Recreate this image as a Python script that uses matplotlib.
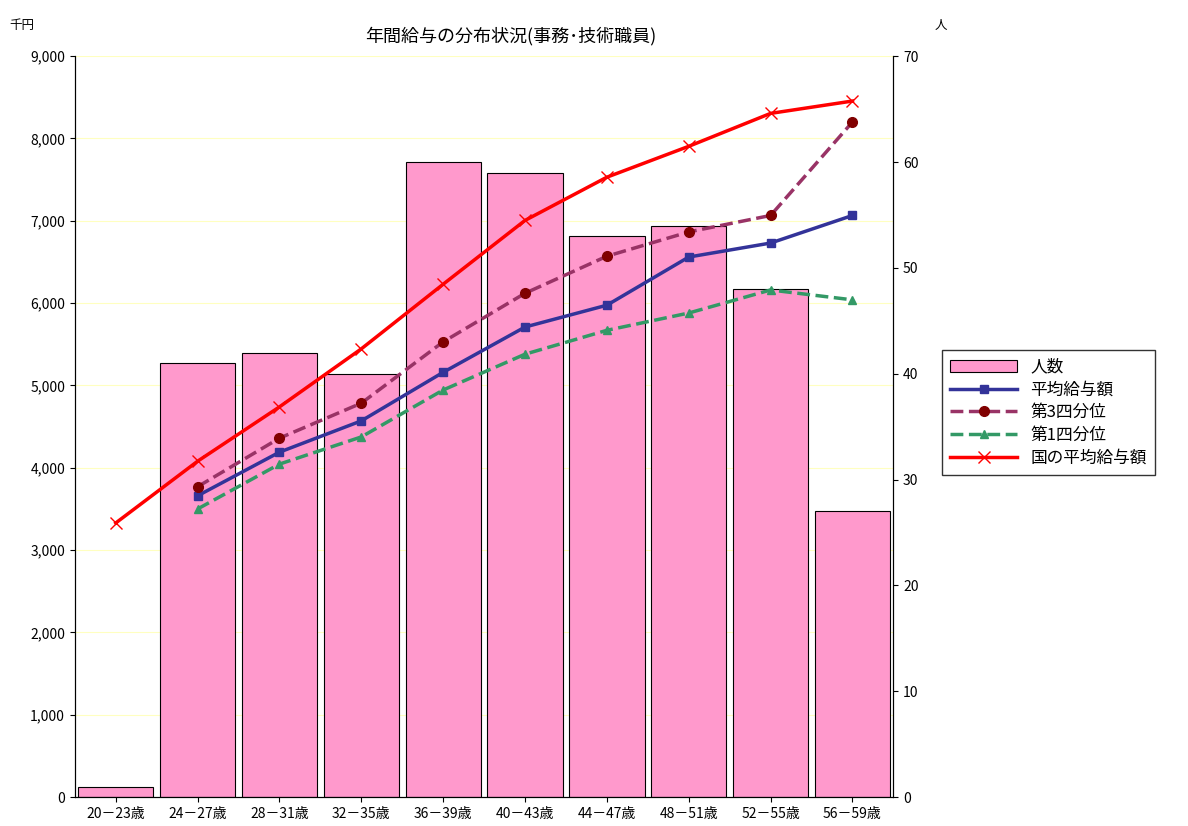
import matplotlib.pyplot as plt
import numpy as np

plt.rcParams['font.family'] = ['Noto Sans CJK JP', 'DejaVu Sans']

ages = ['20－23歳', '24－27歳', '28－31歳', '32－35歳', '36－39歳',
        '40－43歳', '44－47歳', '48－51歳', '52－55歳', '56－59歳']
people = [1, 41, 42, 40, 60, 59, 53, 54, 48, 27]
avg_pay = [None, 3660, 4190, 4570, 5160, 5710, 5975, 6560, 6730, 7065]
q3 = [None, 3770, 4360, 4785, 5530, 6120, 6570, 6865, 7065, 8200]
q1 = [None, 3500, 4045, 4375, 4945, 5380, 5670, 5880, 6160, 6040]
national = [3330, 4080, 4740, 5445, 6230, 7005, 7530, 7905, 8305, 8455]

x = np.arange(len(ages))

def series(v):
    xs = [i for i, a in zip(x, v) if a is not None]
    ys = [a for a in v if a is not None]
    return xs, ys

fig = plt.figure(figsize=(11.88, 8.26), dpi=100)
ax = fig.add_axes([0.063, 0.035, 0.689, 0.897])
ax2 = ax.twinx()

ax2.bar(x, people, width=0.92, color='#FF99CC', edgecolor='black', linewidth=0.8, label='人数')
ax2.set_ylim(0, 70)
ax2.set_yticks(range(0, 71, 10))

ax.set_zorder(ax2.get_zorder() + 1)
ax.patch.set_visible(False)
for yv in range(1000, 9001, 1000):
    ax2.axhline(yv / 9000 * 70, color='#FFFFC0', linewidth=0.8, zorder=0)
for a in (ax, ax2):
    a.spines['top'].set_visible(False)

l1, = ax.plot(*series(avg_pay), color='#333399', marker='s', markersize=6, linewidth=2.5, label='平均給与額')
l2, = ax.plot(*series(q3), color='#993366', marker='o', markersize=7, markerfacecolor='#800000',
              markeredgecolor='#800000', linewidth=2.5, linestyle='--', label='第3四分位')
l3, = ax.plot(*series(q1), color='#339966', marker='^', markersize=6, linewidth=2.5, linestyle='--', label='第1四分位')
l4, = ax.plot(*series(national), color='#FF0000', marker='x', markersize=8, linewidth=2.5, label='国の平均給与額')

ax.set_ylim(0, 9000)
ax.set_yticks(range(0, 9001, 1000))
ax.set_yticklabels([f'{v:,}' for v in range(0, 9001, 1000)])
ax.set_xlim(-0.5, 9.5)
ax.set_xticks(x)
ax.set_xticklabels(ages)
for a in (ax, ax2):
    a.tick_params(labelsize=10)

fig.text(0.008, 0.965, '千円', fontsize=9)
fig.text(0.787, 0.965, '人', fontsize=9)
fig.text(0.43, 0.95, '年間給与の分布状況(事務･技術職員)', fontsize=13, ha='center')

bar_handle = ax2.patches[0]
fig.legend([bar_handle, l1, l2, l3, l4], ['人数', '平均給与額', '第3四分位', '第1四分位', '国の平均給与額'],
           loc='upper left', bbox_to_anchor=(0.786, 0.586), fontsize=12, frameon=True,
           fancybox=False, edgecolor='black', handlelength=4, borderpad=0.5,
           labelspacing=0.35)

fig.savefig('out.png', dpi=100)
